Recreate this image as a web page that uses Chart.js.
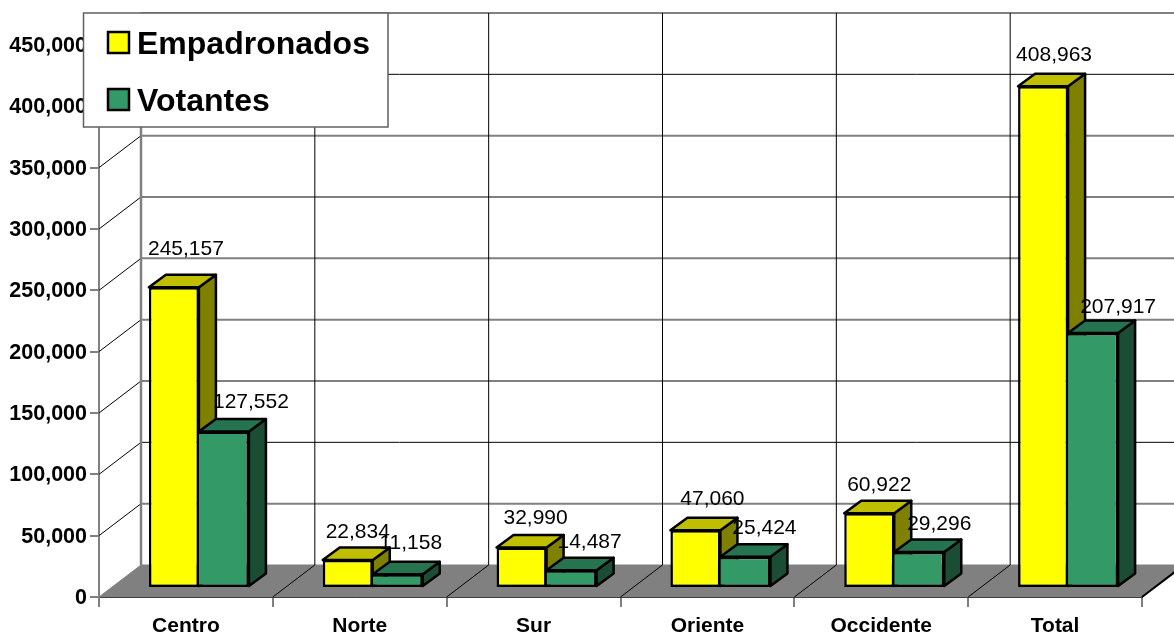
<!DOCTYPE html>
<html>
<head>
<meta charset="utf-8">
<style>
  html, body { margin: 0; padding: 0; background: #fff; }
  canvas { display: block; }
</style>
<script src="https://cdn.jsdelivr.net/npm/chart.js@4"></script>
</head>
<body>
<canvas id="chart" width="1174" height="634"></canvas>
<script>
const categories = ['Centro', 'Norte', 'Sur', 'Oriente', 'Occidente', 'Total'];
const empadronados = [245157, 22834, 32990, 47060, 60922, 408963];
const votantes = [127552, 11158, 14487, 25424, 29296, 207917];

// label nudges, relative to the bar top centre
const labelDx = [[12, 10, 14, 17, 10, 11], [27, 13, 18, 19, 20, 25]];
const labelDy = [[-38, -28, -29, -31, -28, -31], [-29, -31, -28, -29, -28, -26]];

const FONT = '"Liberation Sans", Arial, sans-serif';
const WALL_X = 42, WALL_Y = -32;      // floor depth
const FRONT_X = 13, FRONT_Y = -9;     // bars sit a little inside the floor
const BAR_X = 17, BAR_Y = -12.5;      // bar depth
const darkGrid = [2, 8];              // these gridlines came out thin and black

const fmt = v => v.toLocaleString('en-US');

function poly(ctx, pts, fill) {
	ctx.beginPath();
	pts.forEach((p, i) => i ? ctx.lineTo(p[0], p[1]) : ctx.moveTo(p[0], p[1]));
	ctx.closePath();
	ctx.fillStyle = fill;
	ctx.fill();
	ctx.stroke();
}

function line(ctx, x1, y1, x2, y2, color, width) {
	ctx.beginPath();
	ctx.moveTo(x1, y1);
	ctx.lineTo(x2, y2);
	ctx.strokeStyle = color;
	ctx.lineWidth = width;
	ctx.stroke();
}

const box3d = {
	id: 'box3d',
	beforeDatasetsDraw(chart) {
		const ctx = chart.ctx, y = chart.scales.y, a = chart.chartArea;
		const stepX = (a.right - a.left) / categories.length;
		const y0 = y.getPixelForValue(0), yTop = y.getPixelForValue(y.max);
		ctx.save();

		// floor
		ctx.strokeStyle = '#808080';
		ctx.lineWidth = 1;
		poly(ctx, [[a.left, y0], [a.right, y0], [a.right + WALL_X, y0 + WALL_Y], [a.left + WALL_X, y0 + WALL_Y]], '#808080');

		// back wall horizontals and the diagonals up the left side
		y.ticks.forEach((t, i) => {
			const py = y.getPixelForValue(t.value);
			if (i > 0) {
				const dark = darkGrid.includes(i);
				line(ctx, a.left + WALL_X, py + WALL_Y, a.right + WALL_X, py + WALL_Y, dark ? '#000' : '#808080', dark ? 1 : 2);
				line(ctx, a.left, py, a.left + WALL_X, py + WALL_Y, '#000', 1);
			}
		});

		// back wall verticals and floor diagonals
		for (let i = 0; i <= categories.length; i++) {
			const px = a.left + i * stepX;
			if (i == 0) {
				line(ctx, px + WALL_X, yTop + WALL_Y, px + WALL_X, y0 + WALL_Y, '#808080', 2.5);
			} else {
				line(ctx, px + WALL_X, yTop + WALL_Y, px + WALL_X, y0 + WALL_Y, '#000', 1);
				line(ctx, px, y0, px + WALL_X, y0 + WALL_Y, '#000', i == categories.length ? 2 : 1);
			}
		}
		ctx.restore();
	},
	// the library paints dataset 0 last, here yellow has to go first
	beforeDatasetDraw() {
		return false;
	},
	afterDatasetsDraw(chart) {
		const ctx = chart.ctx;
		chart.data.datasets.forEach((ds, d) => {
			const meta = chart.getDatasetMeta(d);
			ctx.save();
			ctx.strokeStyle = '#000';
			ctx.lineWidth = 2.5;
			ctx.lineJoin = 'round';
			meta.data.forEach(el => {
				const l = el.x - el.width / 2 + FRONT_X, r = l + el.width;
				const t = el.y + FRONT_Y, b = el.base + FRONT_Y - 1;
				poly(ctx, [[r, t], [r + BAR_X, t + BAR_Y], [r + BAR_X, b + BAR_Y], [r, b]], ds.sideColor);
				poly(ctx, [[l, t], [r, t], [r + BAR_X, t + BAR_Y], [l + BAR_X, t + BAR_Y]], ds.topColor);
			});
			// front faces are the library's own bars, just moved onto the floor
			ctx.translate(FRONT_X, FRONT_Y);
			meta.controller.draw();
			ctx.restore();
		});

		ctx.save();
		ctx.font = '21px ' + FONT;
		ctx.fillStyle = '#000';
		ctx.textAlign = 'center';
		ctx.textBaseline = 'middle';
		chart.data.datasets.forEach((ds, d) => {
			chart.getDatasetMeta(d).data.forEach((el, i) => {
				ctx.fillText(fmt(ds.data[i]), el.x + FRONT_X + labelDx[d][i], el.y + FRONT_Y + labelDy[d][i]);
			});
		});
		ctx.restore();
	},
	afterDraw(chart) {
		const ctx = chart.ctx;
		ctx.save();
		ctx.fillStyle = '#fff';
		ctx.strokeStyle = '#606060';
		ctx.lineWidth = 1.5;
		ctx.fillRect(83.5, 13, 304.5, 114);
		ctx.strokeRect(83.5, 13, 304.5, 114);

		ctx.font = 'bold 32px ' + FONT;
		ctx.textBaseline = 'alphabetic';
		chart.data.datasets.forEach((ds, d) => {
			const top = d == 0 ? 32 : 89;
			ctx.fillStyle = ds.backgroundColor;
			ctx.strokeStyle = '#000';
			ctx.lineWidth = 2.5;
			ctx.fillRect(108, top, 21, 21);
			ctx.strokeRect(108, top, 21, 21);
			ctx.fillStyle = '#000';
			ctx.fillText(ds.label, 137, top + 22);
		});
		ctx.restore();
	}
};

new Chart(document.getElementById('chart'), {
	type: 'bar',
	data: {
		labels: categories,
		datasets: [{
			label: 'Empadronados',
			data: empadronados,
			backgroundColor: '#FFFF00',
			topColor: '#BFBF00',
			sideColor: '#808000',
			borderColor: '#000',
			borderWidth: 2.5,
			borderSkipped: false
		}, {
			label: 'Votantes',
			data: votantes,
			backgroundColor: '#339966',
			topColor: '#267350',
			sideColor: '#1A4D33',
			borderColor: '#000',
			borderWidth: 2.5,
			borderSkipped: 'left'
		}]
	},
	plugins: [box3d],
	options: {
		responsive: false,
		animation: false,
		categoryPercentage: 0.5754,
		barPercentage: 1,
		layout: { padding: { top: 45, right: 32, bottom: 0, left: 0 } },
		plugins: { legend: { display: false }, tooltip: { enabled: false } },
		scales: {
			x: {
				afterFit(scale) { scale.height = 37; },
				border: { color: '#000', width: 2 },
				grid: { drawOnChartArea: false, drawTicks: true, tickLength: 10, color: '#808080', lineWidth: 2 },
				ticks: { color: '#000', padding: 7, maxRotation: 0, font: { family: FONT, size: 21, weight: 'bold' } }
			},
			y: {
				min: 0,
				max: 450000,
				afterFit(scale) { scale.width = 99; },
				border: { color: '#808080', width: 2 },
				grid: { drawOnChartArea: false, drawTicks: true, tickLength: 9, color: '#808080', lineWidth: 2 },
				ticks: { stepSize: 50000, color: '#000', padding: 3, labelOffset: 1, callback: v => fmt(v), font: { family: FONT, size: 21.5, weight: 'bold' } }
			}
		}
	}
});
</script>
</body>
</html>
